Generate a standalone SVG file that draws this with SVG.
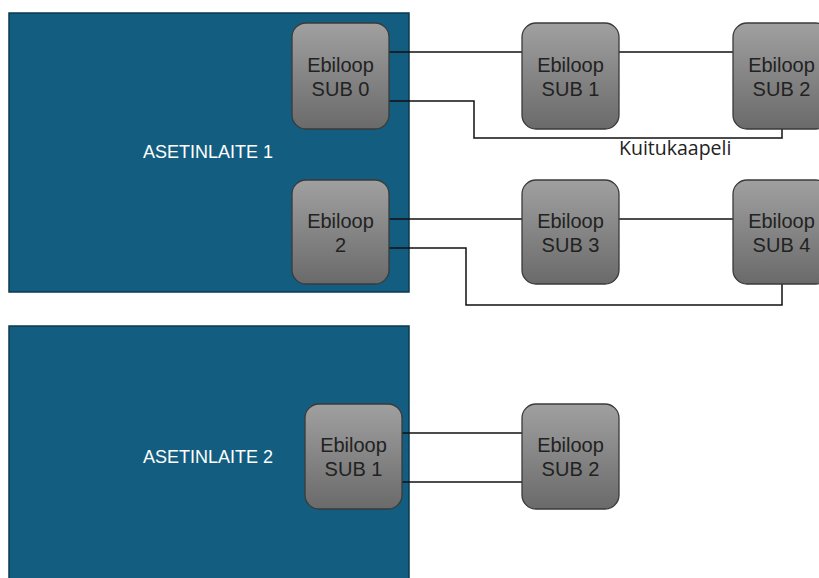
<svg xmlns="http://www.w3.org/2000/svg" width="819" height="578" viewBox="0 0 819 578">
<defs>
<linearGradient id="g" x1="0" y1="0" x2="0" y2="1">
<stop offset="0" stop-color="#a0a0a0"/>
<stop offset="1" stop-color="#6a6a6a"/>
</linearGradient>
<style>
.dev{fill:#135e80;stroke:#0b3a50;stroke-width:1.5}
.node{fill:url(#g);stroke:#3a3a3a;stroke-width:1.3}
.nt{font-family:"Liberation Sans",Arial,sans-serif;font-size:20px;fill:#222;text-anchor:middle}
.dt{font-family:"Liberation Sans",Arial,sans-serif;font-size:18px;fill:#ffffff;text-anchor:middle}
.lbl{font-family:"Open Sans","Liberation Sans",Arial,sans-serif;font-size:19.5px;fill:#222}
.c{fill:none;stroke:#111;stroke-width:1.5}
</style>
</defs>
<rect width="819" height="578" fill="#ffffff"/>
<g id="asetinlaite1">
<rect class="dev" x="9" y="13" width="400" height="279"/>
<text class="dt" x="208" y="158">ASETINLAITE 1</text>
</g>
<g id="asetinlaite2">
<rect class="dev" x="9" y="326" width="400" height="262"/>
<text class="dt" x="208" y="463">ASETINLAITE 2</text>
</g>
<g id="connectors">
<path class="c" d="M389 52H522"/>
<path class="c" d="M619 52H733"/>
<path class="c" d="M389 101H474V138H782V128"/>
<path class="c" d="M389 219H522"/>
<path class="c" d="M619 219H733"/>
<path class="c" d="M389 248H466V305H782V284"/>
<path class="c" d="M402 433H522"/>
<path class="c" d="M402 482H522"/>
</g>
<g id="sub0">
<rect class="node" x="292" y="23" width="97" height="106" rx="14"/>
<text class="nt" x="340.5" y="72">Ebiloop</text>
<text class="nt" x="340.5" y="96">SUB 0</text>
</g>
<g id="sub1">
<rect class="node" x="522" y="23" width="97" height="106" rx="14"/>
<text class="nt" x="570.5" y="72">Ebiloop</text>
<text class="nt" x="570.5" y="96">SUB 1</text>
</g>
<g id="sub2">
<rect class="node" x="733" y="23" width="97" height="106" rx="14"/>
<text class="nt" x="781.5" y="72">Ebiloop</text>
<text class="nt" x="781.5" y="96">SUB 2</text>
</g>
<g id="ebiloop2">
<rect class="node" x="292" y="180" width="97" height="104" rx="14"/>
<text class="nt" x="340.5" y="228">Ebiloop</text>
<text class="nt" x="340.5" y="252">2</text>
</g>
<g id="sub3">
<rect class="node" x="522" y="180" width="97" height="104" rx="14"/>
<text class="nt" x="570.5" y="228">Ebiloop</text>
<text class="nt" x="570.5" y="252">SUB 3</text>
</g>
<g id="sub4">
<rect class="node" x="733" y="180" width="97" height="104" rx="14"/>
<text class="nt" x="781.5" y="228">Ebiloop</text>
<text class="nt" x="781.5" y="252">SUB 4</text>
</g>
<g id="a2sub1">
<rect class="node" x="305" y="404" width="97" height="105" rx="14"/>
<text class="nt" x="353.5" y="452">Ebiloop</text>
<text class="nt" x="353.5" y="476">SUB 1</text>
</g>
<g id="a2sub2">
<rect class="node" x="522" y="404" width="97" height="105" rx="14"/>
<text class="nt" x="570.5" y="452">Ebiloop</text>
<text class="nt" x="570.5" y="476">SUB 2</text>
</g>
<text class="lbl" x="619" y="155">Kuitukaapeli</text>
</svg>
